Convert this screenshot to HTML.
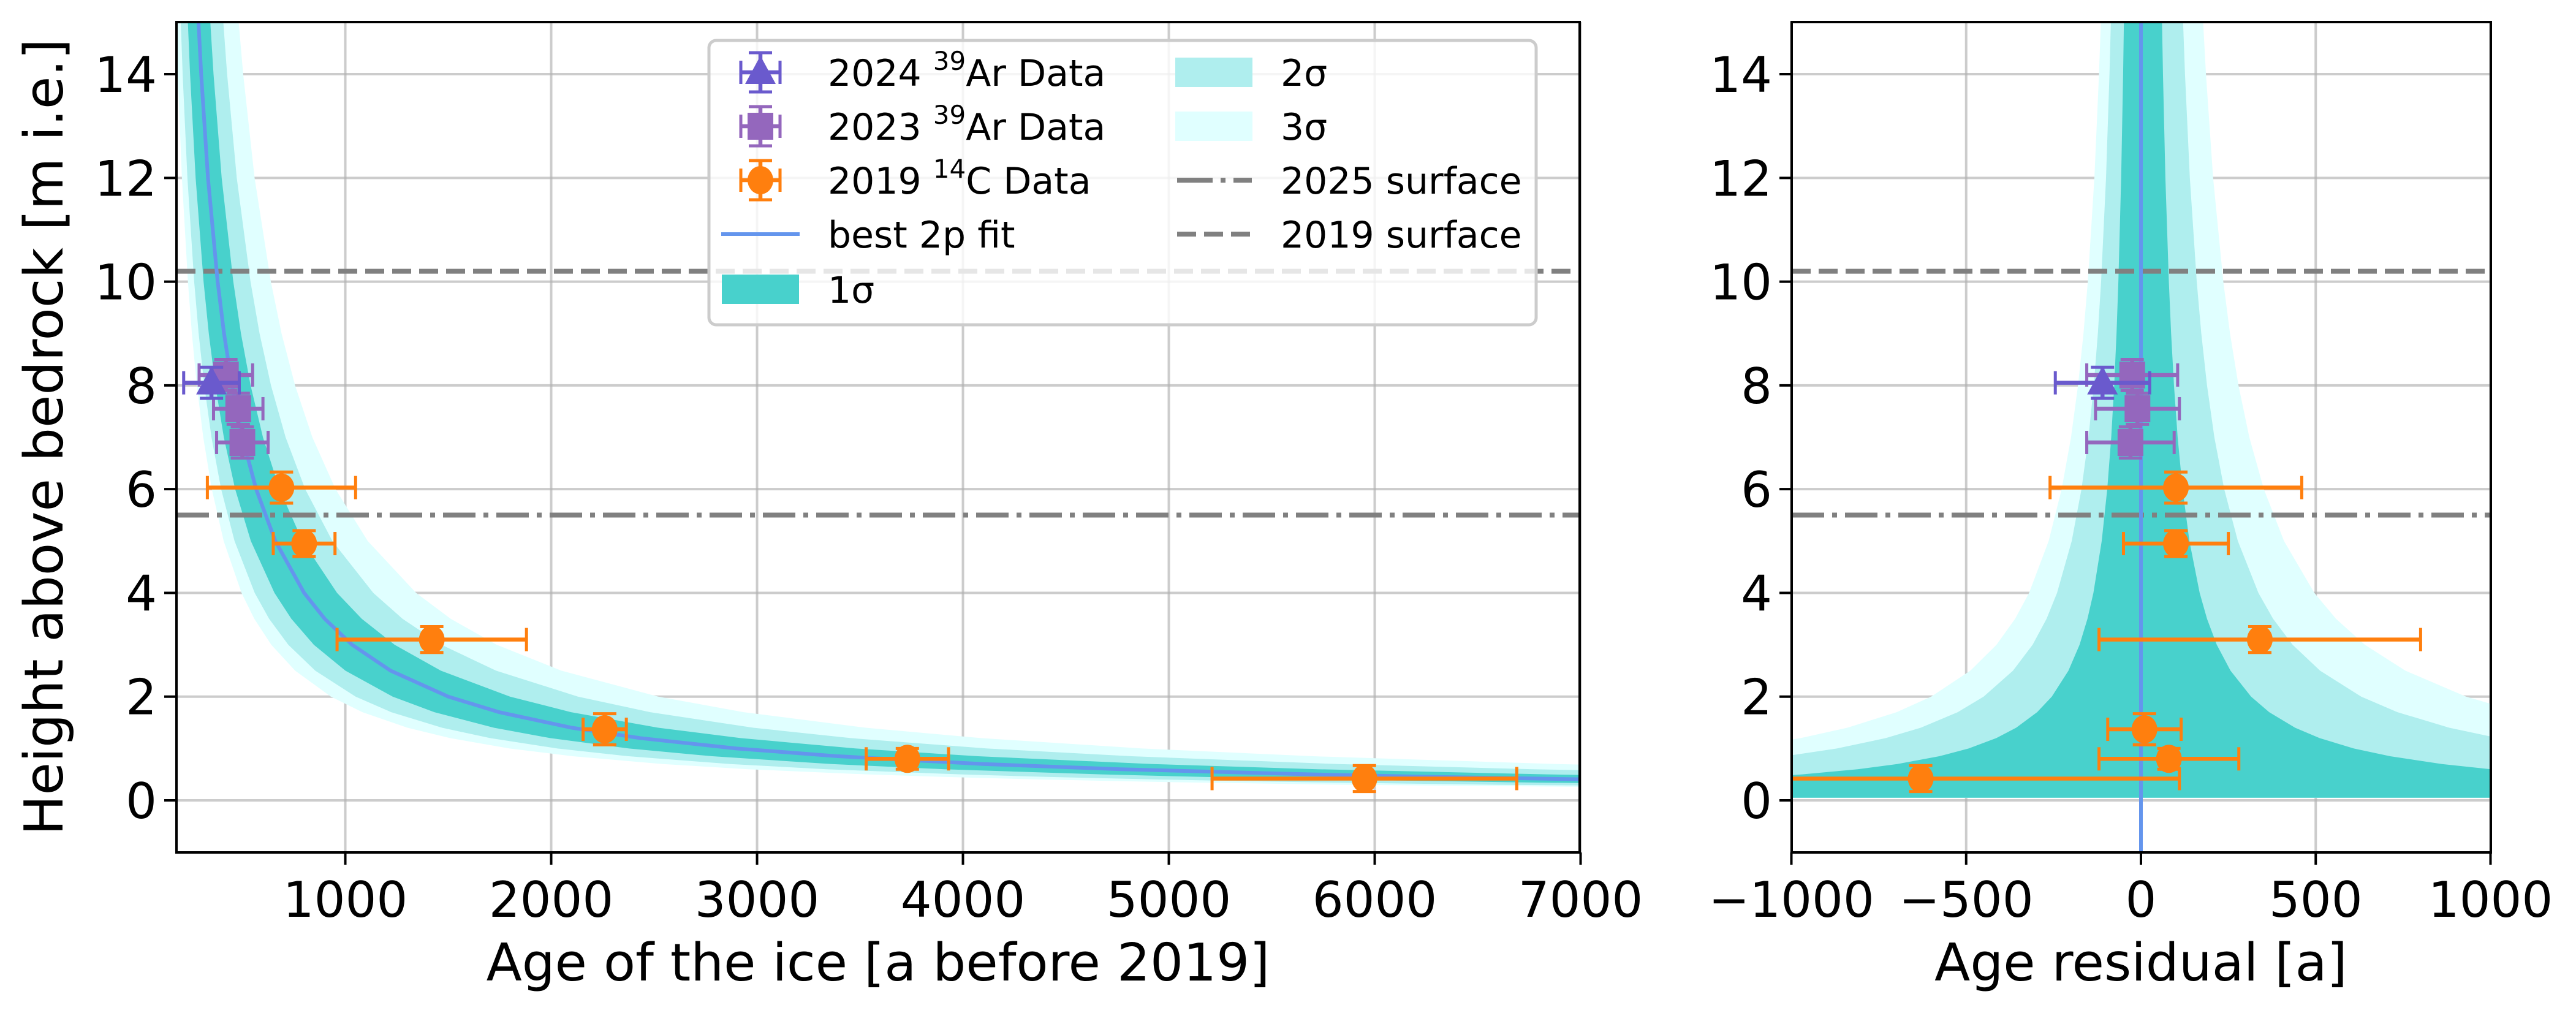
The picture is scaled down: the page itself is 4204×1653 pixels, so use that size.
<!DOCTYPE html>
<html><head><meta charset="utf-8"><style>
html,body{margin:0;padding:0;background:#fff;}
svg{display:block;font-family:"DejaVu Sans","Liberation Sans",sans-serif;}
</style></head><body>
<svg id="chart" width="4204" height="1653" viewBox="0 0 4204 1653" xmlns="http://www.w3.org/2000/svg">
<defs>
<clipPath id="clipL"><rect x="288" y="36" width="2290" height="1355"/></clipPath>
<clipPath id="clipR"><rect x="2924" y="36" width="1141" height="1355"/></clipPath>
</defs>
<g id="left"></g>
<g id="right"></g>
</svg>
<script>
// ---- data ----
const fitHeights = [18,16,15,14,12,10,9,8,7,6,5,4,3.5,3,2.5,2,1.7,1.4,1.2,1,0.85,0.7,0.6,0.5,0.45,0.4,0.35,0.3,0.2,0.05];
const fitAges    = [256,275,287,300,333,380,411,450,500,567,660,800,900,1033,1220,1500,1747,2100,2433,2900,3394,4100,4767,5700,6322,7100,8100,9433,14100,56100];
const leftBandLower  = [-0.18,-0.30,-0.38];
const leftBandUpper  = [0.20,0.42,0.68];
const resBandLower   = [-0.17,-0.30,-0.40];
const resBandUpper   = [0.21,0.42,0.62];
const c14Ages   = [690,800,1420,2260,3730,5950];
const c14Heights= [6.03,4.95,3.1,1.37,0.8,0.42];
const c14AgeErr = [360,150,460,105,200,740];
const c14HErr   = [0.3,0.25,0.25,0.3,0.2,0.25];
const c14Resid  = [100,100,340,10,80,-630];
const ar23Ages   = [420,480,500];
const ar23Heights= [8.2,7.55,6.9];
const ar23AgeErr = [130,120,125];
const ar23HErr   = [0.3,0.3,0.3];
const ar23Resid  = [-25,-10,-30];
const ar24Ages   = [350];
const ar24Heights= [8.05];
const ar24AgeErr = [135];
const ar24HErr   = [0.3];
const ar24Resid  = [-110];
const surfaceLevels = [10.2,5.5];
const yTicks = [0,2,4,6,8,10,12,14];
const xTicksL = [1000,2000,3000,4000,5000,6000,7000];
const xTicksR = [-1000,-500,0,500,1000];
const xTickLabelsR = ["\u22121000","\u2212500","0","500","1000"];

const NS="http://www.w3.org/2000/svg";
function el(tag,attrs,parent){const e=document.createElementNS(NS,tag);for(const k in attrs)e.setAttribute(k,attrs[k]);parent.appendChild(e);return e;}
const Y0=1306, YU=84.64, TOP=36, BOT=1391;
const yS = h => Y0 - h*YU;
const xL = t => 288 + (t-180)*0.336;
const xR = r => 3494 + r*0.5705;
const COL = ["#48D1CC","#AFEEEE","#E0FFFF"];

function axes(g, x0, x1, xs, xticks){
  yTicks.forEach(v=>{const l=el('line',{x1:x0,x2:x1,y1:yS(v),y2:yS(v),stroke:'#b0b0b0','stroke-opacity':0.65,'stroke-width':4},g);
    });
  xticks.forEach(v=>{const l=el('line',{x1:xs(v),x2:xs(v),y1:TOP,y2:BOT,stroke:'#b0b0b0','stroke-opacity':0.65,'stroke-width':4},g);
    });
}
function frame(g,x0,x1,xs,xticks,xlabels,xtitle,xtitleX){
  const r=el('rect',{x:x0,y:TOP,width:x1-x0,height:BOT-TOP,fill:'none',stroke:'#000','stroke-width':4},g);
  
  yTicks.forEach(v=>{
    el('line',{x1:x0-20,x2:x0,y1:yS(v),y2:yS(v),stroke:'#000','stroke-width':4},g);
    const t=el('text',{x:x0-32,y:yS(v)+29,'text-anchor':'end','font-size':80,fill:'#000'},g);
    t.textContent=v;
  });
  xticks.forEach((v,i)=>{
    el('line',{x1:xs(v),x2:xs(v),y1:BOT,y2:BOT+20,stroke:'#000','stroke-width':4},g);
    const t=el('text',{x:xs(v),y:1496,'text-anchor':'middle','font-size':80,fill:'#000'},g);
    t.textContent=xlabels[i];
  });
  const xt=el('text',{x:xtitleX,y:1600,'text-anchor':'middle','font-size':85,fill:'#000'},g);
  xt.textContent=xtitle;
}
function bandPoly(g,fx,lowF,upF,i,clip){
  let pts=[];
  for(let k=0;k<fitHeights.length;k++)pts.push(fx(fitAges[k],upF[i])+','+yS(fitHeights[k]));
  for(let k=fitHeights.length-1;k>=0;k--)pts.push(fx(fitAges[k],lowF[i])+','+yS(fitHeights[k]));
  const p=el('polygon',{points:pts.join(' '),fill:COL[i],'clip-path':clip},g);
  
}
function hlines(g,x0,x1){
  const d=el('line',{x1:x0,x2:x1,y1:yS(surfaceLevels[0]),y2:yS(surfaceLevels[0]),stroke:'#808080','stroke-width':8,'stroke-dasharray':'31 13'},g);
  
  const dd=el('line',{x1:x0,x2:x1,y1:yS(surfaceLevels[1]),y2:yS(surfaceLevels[1]),stroke:'#808080','stroke-width':8,'stroke-dasharray':'53 13 8 13'},g);
  
}
function errbar(g,cx,cy,x1,x2,y1,y2,color,shape,name){
  const grp=el('g',{},g);
  
  el('line',{x1:x1,x2:x2,y1:cy,y2:cy,stroke:color,'stroke-width':6.5},grp);
  el('line',{x1:cx,x2:cx,y1:y1,y2:y2,stroke:color,'stroke-width':6.5},grp);
  [[x1,cy],[x2,cy]].forEach(p=>el('line',{x1:p[0],x2:p[0],y1:cy-19,y2:cy+19,stroke:color,'stroke-width':5},grp));
  [[cx,y1],[cx,y2]].forEach(p=>el('line',{x1:p[0]-19,x2:p[0]+19,y1:p[1],y2:p[1],stroke:color,'stroke-width':5},grp));
  if(shape==='o')el('ellipse',{cx:cx,cy:cy,rx:21,ry:23,fill:color},grp);
  else if(shape==='s')el('rect',{x:cx-21,y:cy-22,width:42,height:44,fill:color},grp);
  else el('polygon',{points:`${cx},${cy-27} ${cx-25},${cy+19} ${cx+25},${cy+19}`,fill:color},grp);
}
function series(g,xs,vals,errs,hs,herrs,color,shape,name){
  vals.forEach((v,i)=>{
    errbar(g,xs(v),yS(hs[i]),xs(v-errs[i]),xs(v+errs[i]),yS(hs[i]+herrs[i]),yS(hs[i]-herrs[i]),color,shape,name);
  });
}

// ---- left panel ----
const gL=document.getElementById('left');
axes(gL,288,2578,xL,xTicksL);
for(let i=2;i>=0;i--)bandPoly(gL,(a,f)=>xL(a*(1+f)),leftBandLower,leftBandUpper,i,'url(#clipL)');
hlines(gL,288,2578);
const fit=el('polyline',{points:fitAges.map((a,k)=>xL(a)+','+yS(fitHeights[k])).join(' '),fill:'none',stroke:'#6495ED','stroke-width':6,'clip-path':'url(#clipL)'},gL);


const dL=el('g',{'clip-path':'url(#clipL)'},gL);


series(dL,xL,c14Ages,c14AgeErr,c14Heights,c14HErr,'#ff7f0e','o','c14-point');
series(dL,xL,ar23Ages,ar23AgeErr,ar23Heights,ar23HErr,'#9467bd','s','ar39-2023-point');
series(dL,xL,ar24Ages,ar24AgeErr,ar24Heights,ar24HErr,'#6a5acd','^','ar39-2024-point');
frame(gL,288,2578,xL,xTicksL,xTicksL.map(String),'Age of the ice [a before 2019]',1433);
const yt=el('text',{x:0,y:0,'text-anchor':'middle','font-size':87,fill:'#000',transform:'translate(102,713) rotate(-90)'},gL);


yt.textContent='Height above bedrock [m i.e.]';

// legend
const lg=el('g',{},gL);


el('rect',{x:1157,y:66,width:1350,height:464,rx:12,fill:'#fff','fill-opacity':0.8,stroke:'#cccccc','stroke-width':5},lg);
const rowsY=[118,206,294,382,472];
function legText(x,y,parts,name){
  const t=el('text',{x:x,y:y+22,'font-size':60,fill:'#000'},lg);
  
  parts.forEach(p=>{const s=el('tspan',p.sup?{'font-size':42,dy:-26}:(p.after?{dy:26}:{}),t);s.textContent=p.t;});
}
function legMarker(y,color,shape,name){
  const cx=1241;
  errbar(lg,cx,y,cx-32,cx+32,y-32,y+32,color,shape,name);
}
legMarker(rowsY[0],'#6a5acd','^','legend-marker-2024');
legText(1351,rowsY[0],[{t:'2024 '},{t:'39',sup:true},{t:'Ar Data',after:true}],'legend-entry-2024-ar');
legMarker(rowsY[1],'#9467bd','s','legend-marker-2023');
legText(1351,rowsY[1],[{t:'2023 '},{t:'39',sup:true},{t:'Ar Data',after:true}],'legend-entry-2023-ar');
legMarker(rowsY[2],'#ff7f0e','o','legend-marker-2019');
legText(1351,rowsY[2],[{t:'2019 '},{t:'14',sup:true},{t:'C Data',after:true}],'legend-entry-2019-c');
el('line',{x1:1177,x2:1305,y1:rowsY[3],y2:rowsY[3],stroke:'#6495ED','stroke-width':6},lg);
legText(1351,rowsY[3],[{t:'best 2p fit'}],'legend-entry-fit');
el('rect',{x:1178,y:rowsY[4]-24,width:126,height:48,fill:COL[0]},lg);
legText(1351,rowsY[4],[{t:'1\u03c3'}],'legend-entry-1sigma');
el('rect',{x:1918,y:rowsY[0]-24,width:126,height:48,fill:COL[1]},lg);
legText(2090,rowsY[0],[{t:'2\u03c3'}],'legend-entry-2sigma');
el('rect',{x:1918,y:rowsY[1]-24,width:126,height:48,fill:COL[2]},lg);
legText(2090,rowsY[1],[{t:'3\u03c3'}],'legend-entry-3sigma');
el('line',{x1:1921,x2:2043,y1:rowsY[2],y2:rowsY[2],stroke:'#808080','stroke-width':8,'stroke-dasharray':'58 13 8 13'},lg);
legText(2090,rowsY[2],[{t:'2025 surface'}],'legend-entry-2025-surface');
el('line',{x1:1921,x2:2043,y1:rowsY[3],y2:rowsY[3],stroke:'#808080','stroke-width':8,'stroke-dasharray':'31 13'},lg);
legText(2090,rowsY[3],[{t:'2019 surface'}],'legend-entry-2019-surface');

// ---- right panel ----
const gR=document.getElementById('right');
axes(gR,2924,4065,xR,xTicksR);
for(let i=2;i>=0;i--)bandPoly(gR,(a,f)=>xR(a*f),resBandLower,resBandUpper,i,'url(#clipR)');
hlines(gR,2924,4065);
const zl=el('line',{x1:xR(0),x2:xR(0),y1:TOP,y2:BOT,stroke:'#6495ED','stroke-width':6},gR);


const dR=el('g',{'clip-path':'url(#clipR)'},gR);


series(dR,xR,c14Resid,c14AgeErr,c14Heights,c14HErr,'#ff7f0e','o','c14-residual-point');
series(dR,xR,ar23Resid,ar23AgeErr,ar23Heights,ar23HErr,'#9467bd','s','ar39-2023-residual-point');
series(dR,xR,ar24Resid,ar24AgeErr,ar24Heights,ar24HErr,'#6a5acd','^','ar39-2024-residual-point');
frame(gR,2924,4065,xR,xTicksR,xTickLabelsR,'Age residual [a]',3494);
</script>
</body></html>
